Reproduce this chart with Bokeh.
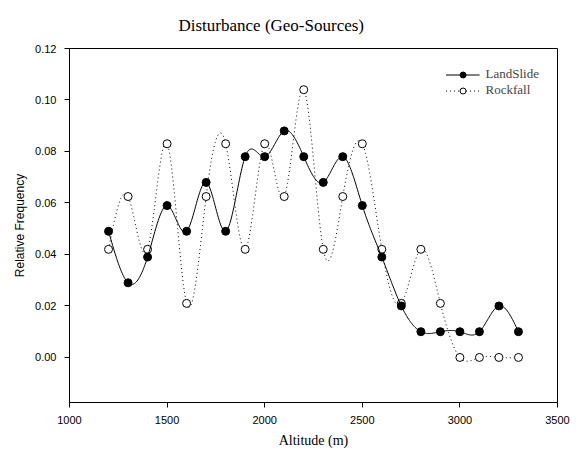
import numpy as np
from bokeh.plotting import figure
from bokeh.models import Range1d, Legend, LegendItem, FixedTicker, NumeralTickFormatter
from bokeh.embed import file_html
from bokeh.resources import INLINE

altitude = [1200, 1300, 1400, 1500, 1600, 1700, 1800, 1900, 2000, 2100, 2200,
            2300, 2400, 2500, 2600, 2700, 2800, 2900, 3000, 3100, 3200, 3300]
landslide = [0.049, 0.029, 0.039, 0.059, 0.049, 0.068, 0.049, 0.078, 0.078, 0.088, 0.078,
             0.068, 0.078, 0.059, 0.039, 0.020, 0.010, 0.010, 0.010, 0.010, 0.020, 0.010]
rockfall = [0.042, 0.0625, 0.042, 0.083, 0.021, 0.0625, 0.083, 0.042, 0.083, 0.0625, 0.104,
            0.042, 0.0625, 0.083, 0.042, 0.021, 0.042, 0.021, 0.0, 0.0, 0.0, 0.0]
x_ticks = [1000, 1500, 2000, 2500, 3000, 3500]
y_ticks = [0.00, 0.02, 0.04, 0.06, 0.08, 0.10, 0.12]

SERIF = "Liberation Serif"
SANS = "Liberation Sans"


def natural_spline(x, y, n=24):
    x = np.asarray(x, float)
    y = np.asarray(y, float)
    m = len(x)
    h = np.diff(x)
    A = np.zeros((m, m))
    b = np.zeros(m)
    A[0, 0] = 1
    A[-1, -1] = 1
    for i in range(1, m - 1):
        A[i, i - 1] = h[i - 1]
        A[i, i] = 2 * (h[i - 1] + h[i])
        A[i, i + 1] = h[i]
        b[i] = 6 * ((y[i + 1] - y[i]) / h[i] - (y[i] - y[i - 1]) / h[i - 1])
    M = np.linalg.solve(A, b)
    xs, ys = [], []
    for i in range(m - 1):
        t = np.linspace(x[i], x[i + 1], n, endpoint=(i == m - 2))
        a = x[i + 1] - t
        c = t - x[i]
        s = (M[i] * a ** 3 + M[i + 1] * c ** 3) / (6 * h[i]) \
            + (y[i] / h[i] - M[i] * h[i] / 6) * a \
            + (y[i + 1] / h[i] - M[i + 1] * h[i] / 6) * c
        xs.extend(t)
        ys.extend(s)
    return xs, ys


p = figure(width=576, height=450, output_backend="svg", toolbar_location=None,
           x_range=Range1d(1000, 3500), y_range=Range1d(-0.0175, 0.12),
           min_border_left=69, min_border_right=19, min_border_top=48, min_border_bottom=48)
p.title.text = "Disturbance (Geo-Sources)"
p.title.text_font = SERIF
p.title.text_font_size = "17px"
p.title.text_font_style = "normal"
p.title.align = "left"
p.title.offset = 109
p.title.standoff = 27
p.title.text_color = "black"

p.grid.visible = False
p.outline_line_color = "black"
p.outline_line_width = 1
p.background_fill_color = "white"
p.border_fill_color = "white"

for ax in (p.xaxis, p.yaxis):
    ax.axis_line_color = "black"
    ax.major_tick_line_color = "black"
    ax.minor_tick_line_color = None
    ax.major_tick_out = 5
    ax.major_tick_in = 0
    ax.major_label_text_font = SANS
    ax.major_label_text_font_size = "11px"
    ax.major_label_text_color = "black"
    ax.major_label_standoff = 8
    ax.axis_label_text_font_style = "normal"
    ax.axis_label_text_color = "black"

p.xaxis.ticker = FixedTicker(ticks=x_ticks)
p.yaxis.ticker = FixedTicker(ticks=y_ticks)
p.yaxis.formatter = NumeralTickFormatter(format="0.00")
p.xaxis.axis_label = "Altitude (m)"
p.yaxis.axis_label = "Relative Frequency"
p.xaxis.axis_label_text_font = SERIF
p.xaxis.axis_label_text_font_size = "14px"
p.yaxis.axis_label_text_font = SANS
p.yaxis.axis_label_text_font_size = "12px"
p.xaxis.axis_label_standoff = 6
p.yaxis.axis_label_standoff = 5

lx, ly = natural_spline(altitude, landslide)
rx, ry = natural_spline(altitude, rockfall)

rl = p.line(rx, ry, line_color="black", line_width=1, line_dash="1 3")
rs = p.scatter(altitude, rockfall, marker="circle", size=8, fill_color="white",
               line_color="black", line_width=1)
ll = p.line(lx, ly, line_color="black", line_width=1)
ls = p.scatter(altitude, landslide, marker="circle", size=8, fill_color="black",
               line_color="black", line_width=1)

legend = Legend(items=[LegendItem(label="LandSlide", renderers=[ll, ls]),
                       LegendItem(label="Rockfall", renderers=[rl, rs])],
                location="top_right", border_line_color=None, background_fill_alpha=0,
                label_text_font=SERIF, label_text_font_size="13px",
                glyph_width=34, glyph_height=15, label_height=15, spacing=0,
                padding=2, margin=18, label_standoff=6)
p.add_layout(legend)

open("out.html", "w").write(file_html(p, INLINE))
